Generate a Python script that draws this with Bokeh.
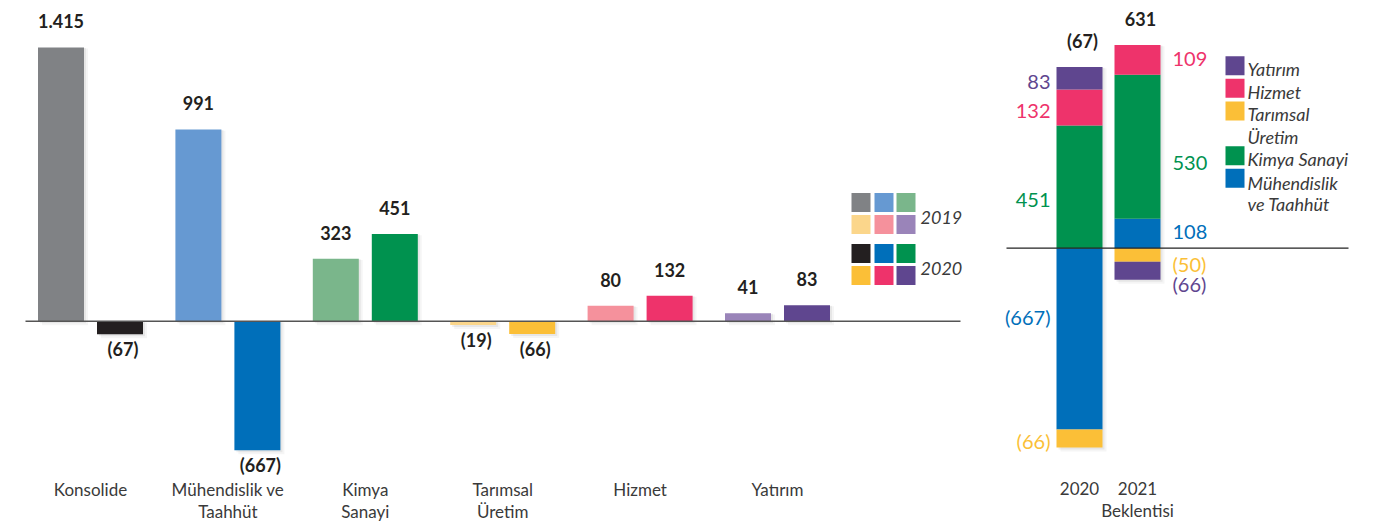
from bokeh.plotting import figure
from bokeh.layouts import row
from bokeh.models import Range1d
from bokeh.core.properties import value
from bokeh.embed import file_html
from bokeh.resources import INLINE

# ---------------- data ----------------
categories = ["Konsolide", "Mühendislik ve\nTaahhüt", "Kimya\nSanayi", "Tarımsal\nÜretim", "Hizmet", "Yatırım"]
values_2019 = [1415, 991, 323, -19, 80, 41]
values_2020 = [-67, -667, 451, -66, 132, 83]
colors_2019 = ["#808285", "#6699d2", "#7ab68b", "#fbd68b", "#f5919c", "#9a84b9"]
colors_2020 = ["#231f20", "#006fba", "#00924f", "#fbbf37", "#ee336b", "#5f468f"]
legend_years = ["2019", "2020"]

stack_labels = ["2020", "2021\nBeklentisi"]
segments = ["Mühendislik ve Taahhüt", "Tarımsal Üretim", "Kimya Sanayi", "Hizmet", "Yatırım"]
seg_2020 = [-667, -66, 451, 132, 83]
seg_2021 = [108, -50, 530, 109, -66]
seg_colors = ["#006fba", "#fbbf37", "#00924f", "#ee336b", "#5f468f"]
legend_items = ["Yatırım", "Hizmet", "Tarımsal\nÜretim", "Kimya Sanayi", "Mühendislik\nve Taahhüt"]
legend_colors = ["#5f468f", "#ee336b", "#fbbf37", "#00924f", "#006fba"]

# ---------------- style ----------------
FONT = value("Lato")
DARK = "#231f20"
LABEL = "#3a3a3a"
H = 522
W1 = 1000
W2 = 390


def fmt(v):
    s = f"{abs(v):,}".replace(",", ".")
    return f"({s})" if v < 0 else s


# ================= left figure =================
GX0, GSP = 90.0, 137.4          # pixel position of first group, group spacing
BASE1, S1 = 320.7, 0.1935        # baseline pixel, px per unit


def xL(px):
    return (px - GX0) / GSP


def yL(py):
    return (BASE1 - py) / S1


p1 = figure(width=W1, height=H, x_range=Range1d(xL(0), xL(W1)), y_range=Range1d(yL(H), yL(0)),
            x_axis_type=None, y_axis_type=None, toolbar_location=None, output_backend="svg",
            min_border=0, outline_line_color=None)
p1.grid.visible = False

bw = 46 / GSP
off = 29.5 / GSP
n = len(categories)
xs19 = [i - off for i in range(n)]
xs20 = [i + off for i in range(n)]

# soft shadows
for dx, a in [(2, 0.06), (4, 0.04)]:
    for xs, vals in [(xs19, values_2019), (xs20, values_2020)]:
        p1.quad(left=[x - bw / 2 + dx / GSP for x in xs], right=[x + bw / 2 + dx / GSP for x in xs],
                bottom=[min(0, v) - dx / S1 for v in vals], top=[max(0, v) - dx / S1 * 0.3 for v in vals],
                fill_color="#000000", fill_alpha=a, line_color=None)

p1.quad(left=[x - bw / 2 for x in xs19], right=[x + bw / 2 for x in xs19],
        bottom=[min(0, v) for v in values_2019], top=[max(0, v) for v in values_2019],
        fill_color=colors_2019, line_color=None)
p1.quad(left=[x - bw / 2 for x in xs20], right=[x + bw / 2 for x in xs20],
        bottom=[min(0, v) for v in values_2020], top=[max(0, v) for v in values_2020],
        fill_color=colors_2020, line_color=None)

p1.segment(x0=[xL(25)], x1=[xL(960)], y0=[0], y1=[0], line_color="#555555", line_width=1.5)

for xs, vals in [(xs19, values_2019), (xs20, values_2020)]:
    pos = [(x, v) for x, v in zip(xs, vals) if v >= 0]
    neg = [(x, v) for x, v in zip(xs, vals) if v < 0]
    if pos:
        p1.text(x=[a for a, _ in pos], y=[b for _, b in pos], text=[fmt(b) for _, b in pos],
                y_offset=-26, text_align="center", text_baseline="middle",
                text_font=FONT, text_font_size="18px", text_font_style="bold", text_color=DARK)
    if neg:
        p1.text(x=[a + 3 / GSP for a, _ in neg], y=[b for _, b in neg], text=[fmt(b) for _, b in neg],
                y_offset=15, text_align="center", text_baseline="middle",
                text_font=FONT, text_font_size="18px", text_font_style="bold", text_color=DARK)

line1 = [c.split("\n")[0] for c in categories]
line2 = [c.split("\n")[1] if "\n" in c else "" for c in categories]
p1.text(x=list(range(n)), y=[yL(489)] * n, text=line1, text_align="center", text_baseline="middle",
        text_font=FONT, text_font_size="17px", text_color=LABEL)
p1.text(x=list(range(n)), y=[yL(511)] * n, text=line2, text_align="center", text_baseline="middle",
        text_font=FONT, text_font_size="17px", text_color=LABEL)

# year legend (grid of colour squares)
sq_x = [860.5, 883.5, 905.5]
sq_rows = [[202, 224], [253, 275]]
for yi, (year, cols) in enumerate(zip(legend_years, [colors_2019, colors_2020])):
    for r in range(2):
        p1.rect(x=[xL(px) for px in sq_x], y=[yL(sq_rows[yi][r])] * 3, width=19, height=19,
                width_units="screen", height_units="screen",
                fill_color=cols[r * 3:(r + 1) * 3], line_color=None)
    p1.text(x=[xL(920)], y=[yL(sq_rows[yi][1] - 7)], text=[year], text_align="left",
            text_baseline="middle", text_font=FONT, text_font_size="18px",
            text_font_style="italic", text_color=LABEL)

# ================= right figure =================
BX0, BSP = 79.0, 58.0
BASE2, S2 = 247.7, 0.272


def xR(px):
    return (px - BX0) / BSP


def yR(py):
    return (BASE2 - py) / S2


p2 = figure(width=W2, height=H, x_range=Range1d(xR(0), xR(W2)), y_range=Range1d(yR(H), yR(0)),
            x_axis_type=None, y_axis_type=None, toolbar_location=None, output_backend="svg",
            min_border=0, outline_line_color=None)
p2.grid.visible = False

bw2 = 46 / BSP
label_dy = [[-22, 2, 13, 3.5, 3.5], [-2, 9, 16, -0.7, 13]]
label_px = [50, 172]

for bi, segs in enumerate([seg_2020, seg_2021]):
    pos_b, neg_b = 0, 0
    bots, tops = [], []
    for v in segs:
        if v >= 0:
            bots.append(pos_b); tops.append(pos_b + v); pos_b += v
        else:
            tops.append(neg_b); bots.append(neg_b + v); neg_b += v
    for dx, a in [(2, 0.06), (4, 0.04)]:
        p2.quad(left=[bi - bw2 / 2 + dx / BSP], right=[bi + bw2 / 2 + dx / BSP],
                bottom=[neg_b - dx / S2], top=[pos_b - dx / S2 * 0.3],
                fill_color="#000000", fill_alpha=a, line_color=None)
    p2.quad(left=[bi - bw2 / 2] * len(segs), right=[bi + bw2 / 2] * len(segs),
            bottom=bots, top=tops, fill_color=seg_colors, line_color=None)
    mids = [(b + t) / 2 for b, t in zip(bots, tops)]
    for v, m, c, dy in zip(segs, mids, seg_colors, label_dy[bi]):
        p2.text(x=[xR(label_px[bi])], y=[m], text=[fmt(v)], y_offset=dy,
                text_align="right" if bi == 0 else "left", text_baseline="middle",
                text_font=FONT, text_font_size="20px", text_color=c)
    p2.text(x=[bi + 3 / BSP], y=[pos_b], text=[fmt(sum(segs))], y_offset=-26, text_align="center",
            text_baseline="middle", text_font=FONT, text_font_size="18px",
            text_font_style="bold", text_color=DARK)

p2.segment(x0=[xR(6)], x1=[xR(348)], y0=[0], y1=[0], line_color="#222222", line_width=1.2)

sl1 = [s.split("\n")[0] for s in stack_labels]
sl2 = [s.split("\n")[1] if "\n" in s else "" for s in stack_labels]
p2.text(x=[0, 1], y=[yR(488)] * 2, text=sl1, text_align="center", text_baseline="middle",
        text_font=FONT, text_font_size="17px", text_color=LABEL)
p2.text(x=[0, 1], y=[yR(510)] * 2, text=sl2, text_align="center", text_baseline="middle",
        text_font=FONT, text_font_size="17px", text_color=LABEL)

# legend
leg_sq_y = [65.3, 87.7, 110.5, 155.2, 177.8]
p2.rect(x=[xR(234.5)] * 5, y=[yR(v) for v in leg_sq_y], width=19, height=19,
        width_units="screen", height_units="screen", fill_color=legend_colors, line_color=None)
leg_lines = []
for it in legend_items:
    leg_lines.extend(it.split("\n"))
leg_line_y = [68, 91, 113, 136, 158, 182, 203]
p2.text(x=[xR(247)] * len(leg_lines), y=[yR(v) for v in leg_line_y], text=leg_lines,
        text_align="left", text_baseline="middle", text_font=FONT, text_font_size="18px",
        text_font_style="italic", text_color=LABEL)

layout = row(p1, p2)
open("out.html", "w").write(file_html(layout, INLINE))
